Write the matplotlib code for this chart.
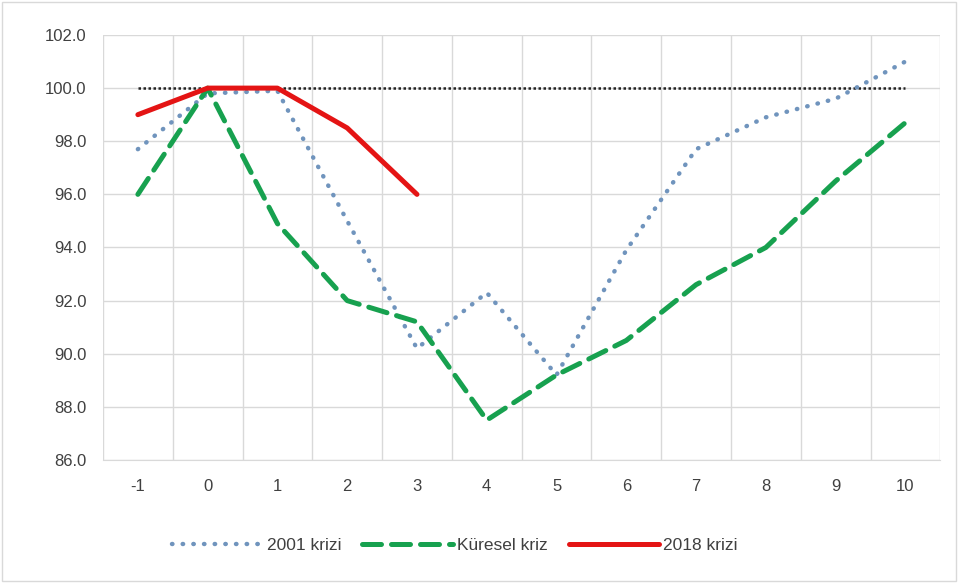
import matplotlib
matplotlib.use("Agg")
import matplotlib.pyplot as plt
from matplotlib.patches import Rectangle

categories = [-1, 0, 1, 2, 3, 4, 5, 6, 7, 8, 9, 10]
kriz_2001 = [97.7, 99.8, 99.9, 95.0, 90.2, 92.3, 89.2, 93.9, 97.7, 98.9, 99.6, 101.0]
kuresel = [96.0, 100.0, 94.9, 92.0, 91.2, 87.5, 89.2, 90.5, 92.6, 94.0, 96.5, 98.7]
kriz_2018 = [99.0, 100.0, 100.0, 98.5, 96.0]
reference = [100.0] * len(categories)
yticks = [86.0, 88.0, 90.0, 92.0, 94.0, 96.0, 98.0, 100.0, 102.0]

plt.rcParams['font.family'] = ['Liberation Sans', 'DejaVu Sans']

fig = plt.figure(figsize=(9.58, 5.83), dpi=100)
fig.patches.append(Rectangle((0.002, 0.003), 0.996, 0.994, transform=fig.transFigure,
                             fill=False, edgecolor='#d9d9d9', linewidth=1))
ax = fig.add_axes([0.1075, 0.211, 0.874, 0.729])

x = list(range(len(categories)))
ax.plot(x, reference, color='#222222', linestyle=(0, (1, 1.0)), linewidth=1.8, zorder=2)
ax.plot(x, kriz_2001, color='#7094bd', linestyle=(0, (0.1, 2.3)), linewidth=3.2,
        solid_capstyle='round', dash_capstyle='round', label='2001 krizi', zorder=3)
ax.plot(x, kuresel, color='#17a14f', linestyle=(0, (3.8, 2.0)), linewidth=3.6,
        dash_capstyle='round', label='Küresel kriz', zorder=4)
ax.plot(range(len(kriz_2018)), kriz_2018, color='#e41414', linewidth=3.6,
        solid_capstyle='round', label='2018 krizi', zorder=5)

ax.set_xlim(-0.5, len(categories) - 0.5)
ax.set_ylim(86, 102)
ax.set_yticks(yticks)
ax.set_yticklabels([f"{v:.1f}" for v in yticks])
ax.set_xticks(x)
ax.set_xticklabels([str(c) for c in categories])
ax.set_xticks([i - 0.5 for i in range(len(categories) + 1)], minor=True)
ax.grid(True, axis='y', which='major', color='#d9d9d9', linewidth=1)
ax.grid(True, axis='x', which='minor', color='#d9d9d9', linewidth=1)
ax.grid(False, axis='x', which='major')
ax.set_axisbelow(True)
for s in ['top', 'right', 'left']:
    ax.spines[s].set_visible(False)
ax.spines['bottom'].set_color('#d9d9d9')
ax.tick_params(axis='both', which='both', length=0, colors='#404040', labelsize=12)
ax.tick_params(axis='x', pad=14)
ax.tick_params(axis='y', pad=12)

leg = fig.legend(loc='center', bbox_to_anchor=(0.475, 0.065), ncol=3, frameon=False,
                 fontsize=12.5, handlelength=5.2, columnspacing=1.2, handletextpad=0.25)
for t in leg.get_texts():
    t.set_color('#404040')

fig.savefig('out.png', dpi=100)
